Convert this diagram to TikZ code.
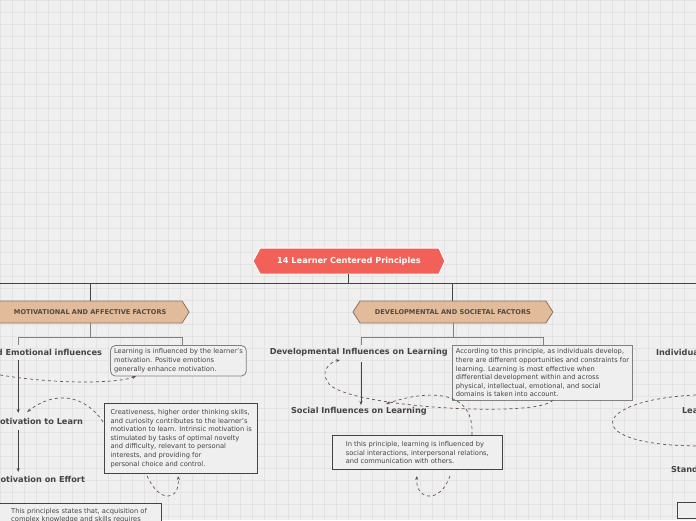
\documentclass[tikz,border=0pt]{standalone}
\usepackage{fontspec}
\setmainfont{DejaVu Sans}
\usetikzlibrary{arrows.meta}
\definecolor{bg}{HTML}{EFEFEF}
\definecolor{gridc}{HTML}{E3E3E3}
\definecolor{rootc}{HTML}{F26157}
\definecolor{tan}{HTML}{E2BC9A}
\definecolor{tanb}{HTML}{8A7262}
\definecolor{dk}{HTML}{444444}
\definecolor{dash}{HTML}{6B4F47}
\tikzset{
 conn/.style={draw=dk,line width=0.9pt},
 arr/.style={conn,-{Stealth[length=4pt,width=3pt]}},
 rel/.style={draw=dash,dashed,line width=0.7pt,-{Stealth[length=4pt,width=3pt]}},
 topic/.style={font=\bfseries\fontsize{8.2}{9}\selectfont,text=dk,inner sep=0pt},
 note/.style={draw=dk,fill=bg,line width=0.8pt,align=left,font=\fontsize{6.7}{8.6}\selectfont,text=dk,inner sep=5pt,anchor=north west},
}
\begin{document}
\begin{tikzpicture}[x=1pt,y=-1pt]
\fill[bg] (0,0) rectangle (696,520);
\foreach \i in {0,12,...,696} \draw[gridc,line width=0.4pt] (\i,0) -- (\i,520);
\foreach \i in {0,12,...,520} \draw[gridc,line width=0.4pt] (0,\i) -- (696,\i);
\useasboundingbox (0,0) rectangle (696,520);
% root
\path[fill=rootc,draw=white,line width=1pt] (260,248)--(439,248)--(445,261)--(439,274)--(260,274)--(253,261)--cycle;
\node[font=\bfseries\fontsize{8.2}{9}\selectfont,text=white] (root) at (349,261) {14 Learner Centered Principles};
\coordinate (rb) at (348,274);
\draw[conn] (rb) -- (348,283);
\draw[conn] (0,283) -- (696,283);
\path[fill=tan,draw=tanb,line width=0.8pt] (-5,301)--(182,301)--(189,312)--(182,323)--(-5,323)--cycle;
\node[font=\bfseries\fontsize{6.6}{7}\selectfont,text=dk!90!brown] (mot) at (90,312) {MOTIVATIONAL AND AFFECTIVE FACTORS};
\path[fill=tan,draw=tanb,line width=0.8pt] (360,301)--(546,301)--(553,312)--(546,323)--(360,323)--(353,312)--cycle;
\node[font=\bfseries\fontsize{6.6}{7}\selectfont,text=dk!90!brown] (dev) at (453,312) {DEVELOPMENTAL AND SOCIETAL FACTORS};
\draw[conn] (90,283) -- (90,301);
\draw[conn] (453,283) -- (453,301);
\draw[draw=gray,line width=0.8pt] (90,323)--(90,337) (18,345)--(18,337)--(182,337)--(182,345);
\draw[draw=gray,line width=0.8pt] (453,323)--(453,337) (361,345)--(361,337)--(544,337)--(544,345);
% left topics
\node[topic,anchor=east] (t1) at (102,352) {Affective and Emotional influences};
\node[topic,anchor=east] (t2) at (83,421) {Intrinsic Motivation to Learn};
\node[topic,anchor=east] (t3) at (85,480) {Effects of Motivation on Effort};
\draw[arr] (18,360) -- (18,413);
\draw[arr] (18,430) -- (18,472);
\node[note,draw=gray,rounded corners=5pt,inner sep=3.5pt] (n1) at (110,345) {Learning is influenced by the learner's\\motivation. Positive emotions\\generally enhance motivation.};
\node[note,inner sep=6pt] (n2) at (104,403) {Creativeness, higher order thinking skills,\\and curiosity contributes to the learner's\\motivation to learn. Intrinsic motivation is\\stimulated by tasks of optimal novelty\\and difficulty, relevant to personal\\interests, and providing for\\personal choice and control.};
\node[note,minimum width=165pt] (n3) at (-4,503) {This principles states that, acquisition of\\complex knowledge and skills requires};
% dev topics
\node[topic,anchor=east] (d1) at (448,352) {Developmental Influences on Learning};
\node[topic,anchor=east] (d2) at (427,411) {Social Influences on Learning};
\draw[arr] (361,362) -- (361,405);
\node[note,draw=gray,inner sep=3.5pt] (n4) at (452,345) {According to this principle, as individuals develop,\\there are different opportunities and constraints for\\learning. Learning is most effective when\\differential development within and across\\physical, intellectual, emotional, and social\\domains is taken into account.};
\node[note,inner sep=6pt,minimum width=170pt] (n5) at (332,435) {In this principle, learning is influenced by\\social interactions, interpersonal relations,\\and communication with others.};
% right topics
\node[topic,anchor=west] (r1) at (656,352) {Individual Differences};
\node[topic,anchor=west] (r2) at (682,411) {Learning and Diversity};
\node[topic,anchor=west] (r3) at (671,470) {Standards and Assessment};
\node[note,minimum width=160pt] (n6) at (677,502) {This principle};
% dashed relations
\draw[rel] (0,375) .. controls (60,385) and (120,383) .. (136,376);
\draw[rel] (103,422) .. controls (85,395) and (55,390) .. (27,412);
\draw[rel] (147,476) .. controls (160,505) and (180,500) .. (178,476);
\draw[rel] (472,435) .. controls (475,385) and (420,392) .. (386,404);
\draw[rel] (553,400) .. controls (540,418) and (355,408) .. (330,385) .. controls (318,372) and (330,362) .. (340,360);
\draw[rel] (450,476) .. controls (440,505) and (415,500) .. (417,476);
\draw[draw=dash,dashed,line width=0.7pt] (696,395) .. controls (590,400) and (580,445) .. (696,446);
\end{tikzpicture}
\end{document}
